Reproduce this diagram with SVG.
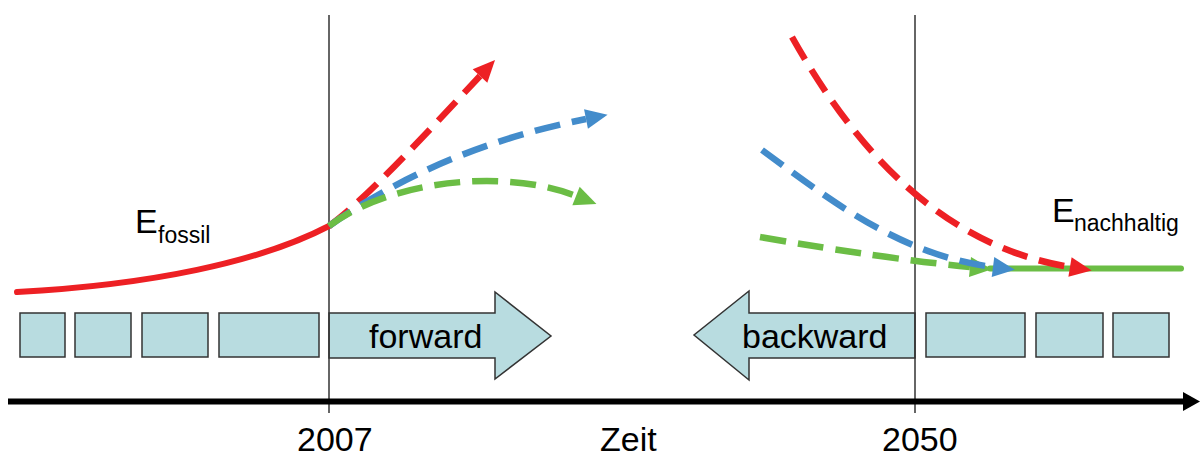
<svg xmlns="http://www.w3.org/2000/svg" width="1200" height="459" viewBox="0 0 1200 459">
<style>
.box{fill:#B8DCE0;stroke:#333;stroke-width:1.5}
.vline{stroke:#333;stroke-width:1.5;fill:none}
.lbl{font-family:"Liberation Sans",Arial,sans-serif;fill:#000}
.big{font-size:34px}
.sub{font-size:23px}
.dash{fill:none;stroke-width:6.5;stroke-dasharray:26 12}
.r{stroke:#ED2024}
.b{stroke:#438CCB}
.g{stroke:#6BBD45}
</style>
<defs>
<marker id="ar" markerUnits="userSpaceOnUse" markerWidth="26" markerHeight="26" viewBox="0 -13 26 26" refX="0" refY="0" orient="auto" overflow="visible"><path d="M0,-10 L22,0 L0,10 z" fill="#ED2024"/></marker>
<marker id="ab" markerUnits="userSpaceOnUse" markerWidth="26" markerHeight="26" viewBox="0 -13 26 26" refX="0" refY="0" orient="auto" overflow="visible"><path d="M0,-10 L22,0 L0,10 z" fill="#438CCB"/></marker>
<marker id="ag" markerUnits="userSpaceOnUse" markerWidth="26" markerHeight="26" viewBox="0 -13 26 26" refX="0" refY="0" orient="auto" overflow="visible"><path d="M0,-10 L22,0 L0,10 z" fill="#6BBD45"/></marker>
</defs>
<rect width="1200" height="459" fill="#fff"/>
<g id="timeline-boxes-left">
<rect class="box" x="20" y="313" width="45" height="44"/>
<rect class="box" x="75" y="313" width="56" height="44"/>
<rect class="box" x="142" y="313" width="66" height="44"/>
<rect class="box" x="219" y="313" width="100" height="44"/>
</g>
<g id="forward">
<polygon class="box" points="329,313 495,313 495,292 551,336 495,379 495,358 329,358"/>
<text class="lbl big" x="369" y="348">forward</text>
</g>
<g id="backward">
<polygon class="box" points="915,313 749,313 749,291 694,335 749,380 749,358 915,358"/>
<text class="lbl big" x="742" y="348">backward</text>
</g>
<g id="timeline-boxes-right">
<rect class="box" x="926" y="313" width="99" height="44"/>
<rect class="box" x="1036" y="313" width="67" height="44"/>
<rect class="box" x="1113" y="313" width="56" height="44"/>
</g>
<g id="markers-years">
<line class="vline" x1="329" y1="15" x2="329" y2="413"/>
<line class="vline" x1="915" y1="15" x2="915" y2="413"/>
</g>
<g id="axis">
<line x1="8" y1="401.5" x2="1184" y2="401.5" stroke="#000" stroke-width="6"/>
<polygon points="1183,392 1200,401.5 1183,411" fill="#000"/>
<text class="lbl big" x="297" y="451">2007</text>
<text class="lbl big" x="600" y="451">Zeit</text>
<text class="lbl big" x="882" y="451">2050</text>
</g>
<g id="connectors">
<path d="M17,292 C150,285 260,262 329,226" fill="none" stroke="#ED2024" stroke-width="6" stroke-linecap="round"/>
<path class="dash r" d="M329,226 C365,200 420,140 480,76" marker-end="url(#ar)"/>
<path class="dash b" d="M329,226 Q440,148 586,119" marker-end="url(#ab)"/>
<path class="dash g" d="M329,226 C390,180 505,168 576,196" marker-end="url(#ag)"/>
<line x1="990" y1="268.5" x2="1181" y2="268.5" stroke="#6BBD45" stroke-width="6" stroke-linecap="round"/>
<path class="dash g" d="M760,237 Q880,258 970,267" marker-end="url(#ag)"/>
<path class="dash b" d="M762,150 C830,200 900,255 993,267" marker-end="url(#ab)"/>
<path class="dash r" d="M792,37 C850,140 935,245 1070,267" marker-end="url(#ar)"/>
</g>
<g id="label-fossil">
<text class="lbl big" x="135" y="233">E</text>
<text class="lbl sub" x="158" y="243">fossil</text>
</g>
<g id="label-nachhaltig">
<text class="lbl big" x="1052" y="222">E</text>
<text class="lbl sub" x="1074" y="231">nachhaltig</text>
</g>
</svg>
